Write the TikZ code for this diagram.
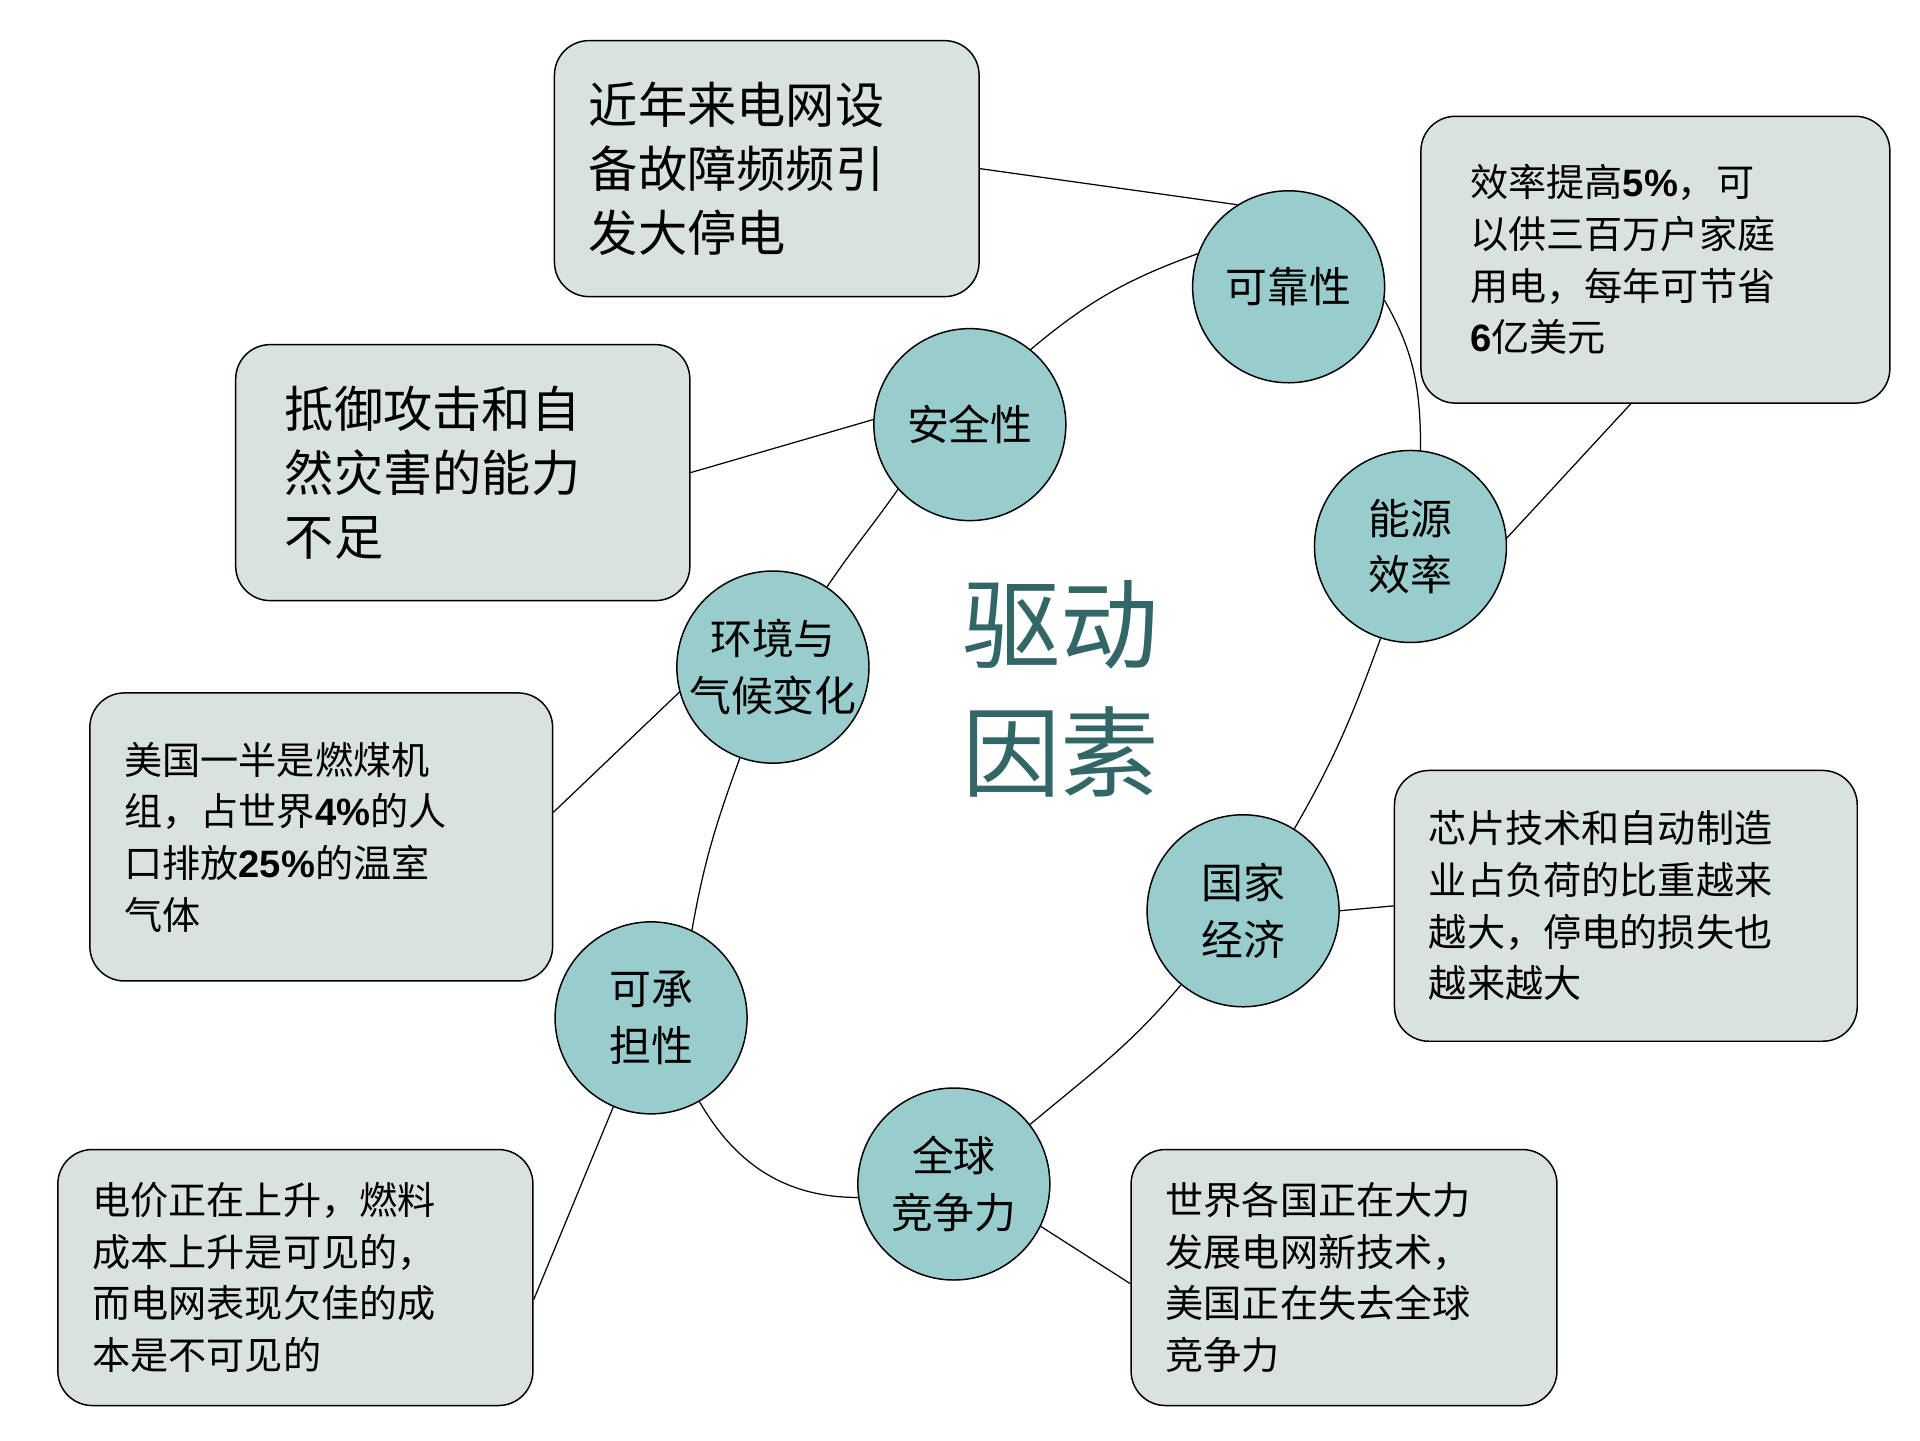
\documentclass[tikz,border=0pt]{standalone}
\usepackage{fontspec}
\setmainfont{Noto Sans CJK SC}
\newfontfamily\latinb{Liberation Sans}
\newcommand{\bnum}[1]{{\latinb\bfseries #1}}
\begin{document}
\begin{tikzpicture}[x=1pt,y=1pt,
  circ/.style={circle,draw=black,line width=1.2pt,fill=circfill,minimum size=156pt,inner sep=0pt,align=center,font=\fontsize{34}{46}\selectfont},
  bx/.style={draw=black,line width=1.2pt,fill=boxfill,rounded corners=28pt,align=left,inner xsep=28pt,inner ysep=10pt},
  big/.style={font=\fontsize{40}{52}\selectfont},
  sm/.style={font=\fontsize{31}{42}\selectfont},
  ln/.style={line width=1pt,draw=black}]
\definecolor{circfill}{HTML}{99CCCC}
\definecolor{boxfill}{HTML}{D9E1E1}
\definecolor{teal2}{HTML}{336666}
\useasboundingbox[fill=white] (0,0) rectangle (1560,-1170);
% boxes
\node[bx,big,minimum width=345pt,minimum height=208pt,text width=289pt] (b1) at (623,-137) {近年来电网设\\备故障频频引\\发大停电};
\node[bx,sm,minimum width=357pt,minimum height=233pt,text width=301pt,inner xsep=40pt] (b2) at (1345,-211) {效率提高\bnum{5\%}，可\\以供三百万户家庭\\用电，每年可节省\\\bnum{6}亿美元};
\node[bx,big,minimum width=345pt,minimum height=208pt,text width=289pt,inner xsep=40pt] (b3) at (376,-384) {抵御攻击和自\\然灾害的能力\\不足};
\node[bx,sm,minimum width=363pt,minimum height=234pt,text width=320pt,inner xsep=28pt] (b4) at (261,-680) {美国一半是燃煤机\\组，占世界\bnum{4\%}的人\\口排放\bnum{25\%}的温室\\气体};
\node[bx,sm,minimum width=358pt,minimum height=220pt,text width=320pt] (b5) at (1321,-736) {芯片技术和自动制造\\业占负荷的比重越来\\越大，停电的损失也\\越来越大};
\node[bx,sm,minimum width=371pt,minimum height=208pt,text width=330pt] (b6) at (240,-1038) {电价正在上升，燃料\\成本上升是可见的，\\而电网表现欠佳的成\\本是不可见的};
\node[bx,sm,minimum width=320pt,minimum height=208pt,text width=290pt] (b7) at (1092,-1038) {世界各国正在大力\\发展电网新技术，\\美国正在失去全球\\竞争力};
% circles
\node[circ] (c1) at (1047,-233) {可靠性};
\node[circ] (c2) at (788,-345) {安全性};
\node[circ] (c3) at (1146,-444) {能源\\效率};
\node[circ] (c4) at (628,-542) {环境与\\气候变化};
\node[circ] (c5) at (1010,-740) {国家\\经济};
\node[circ] (c6) at (529,-827) {可承\\担性};
\node[circ] (c7) at (775,-962) {全球\\竞争力};
\node[text=teal2,font=\fontsize{80}{104}\selectfont,align=center] (t) at (862,-560) {驱动\\因素};
% box connectors
\draw[ln] (b1.east) -- (c1.122);
\draw[ln] ([xshift=-20pt]b2.south) -- (c3.5);
\draw[ln] (b3.east) -- (c2.177);
\draw[ln] ([yshift=20pt]b4.east) -- (c4.195);
\draw[ln] (b5.west) -- (c5.0);
\draw[ln] ([yshift=-18pt]b6.east) -- (c6.247);
\draw[ln] ([yshift=-5pt]b7.west) -- (c7.334);
% chain
\draw[ln] (c2.51) to[out=40,in=200] (c1.160);
\draw[ln] (c1.-8) to[out=-60,in=90] (c3.84);
\draw[ln] (c3.252) to[out=250,in=60] (c5.58);
\draw[ln] (c5.230) to[out=230,in=40] (c7.38);
\draw[ln] (c7.188) to[out=180,in=300] (c6.300);
\draw[ln] (c6.65) to[out=80,in=250] (c4.250);
\draw[ln] (c4.56) to[out=56,in=235] (c2.222);
\end{tikzpicture}
\end{document}
